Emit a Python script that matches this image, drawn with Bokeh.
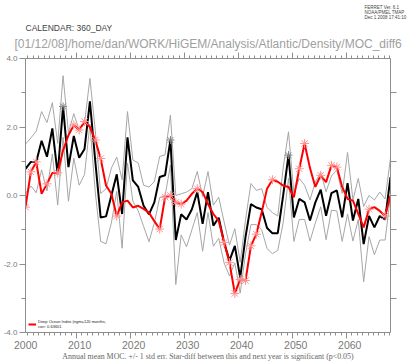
import numpy as np
from bokeh.plotting import figure
from bokeh.models import (LinearAxis, FixedTicker, Range1d, ColumnDataSource, Title,
                          CustomJSTickFormatter, PrintfTickFormatter, Legend, LegendItem)
from bokeh.embed import file_html
from bokeh.resources import INLINE

# ---------------- data ----------------
X0, X1 = 2000.56, 2068.15          # time axis extent (years)
N = 69
mean_moc = [0.78, 0.98, 0.98, 1.6, 1.13, 1.96, 0.62, 2.6, 0.83, 1.74, 1.1, 1.36, 2.75, 1.0,
            -0.64, -0.61, 0.0, 0.62, -0.54, 1.7, 0.44, 0.25, -0.3, -0.55, -0.2, 0.54, 0.59,
            1.62, -1.3, -0.55, -0.7, -0.4, 0.1, -0.83, 0.1, -0.88, -0.65, -1.37, -1.9, -1.47,
            -2.4, -1.2, -0.25, -0.35, -0.4, -0.95, -1.1, -1.1, 0.0, 1.18, -0.64, -0.1, -0.2,
            -0.73, -0.2, 0.17, -0.59, 0.07, 0.15, -0.64, 0.36, -0.73, -0.1, -1.42, -0.6, -0.93,
            -0.6, -0.7, 0.54]
std_err = [0.72, 0.7, 0.9, 0.85, 1.0, 0.75, 0.9, 0.9, 1.0, 0.65, 0.8, 0.75, 0.67, 0.9, 0.7,
           0.8, 0.8, 0.5, 1.0, 0.75, 0.6, 0.7, 0.6, 0.8, 0.6, 0.6, 0.6, 0.73, 1.3, 0.6, 0.8,
           0.6, 0.6, 0.8, 0.6, 0.6, 0.6, 0.6, 0.45, 0.5, 0.45, 0.5, 0.6, 0.5, 0.6, 0.6, 0.6,
           0.5, 0.8, 0.68, 0.7, 0.6, 0.5, 0.6, 0.6, 0.5, 0.7, 0.5, 0.6, 0.7, 0.9, 0.6, 0.6,
           1.1, 0.6, 0.8, 0.7, 0.6, 0.55]
deep_index = [-0.34, 0.69, 0.98, 0.05, 0.34, 0.66, 0.66, 1.32, 1.76, 2.06, 1.91, 2.16, 2.0,
              1.62, 1.08, 0.29, 0.05, -0.6, -0.2, -0.15, -0.35, -0.3, -0.39, -0.5, -0.75,
              -0.98, -0.05, 0.0, -0.2, -0.25, -0.15, 0.05, 0.2, 0.1, -0.25, -0.54, -0.74,
              -1.37, -1.96, -2.86, -2.45, -2.48, -1.47, -1.13, -0.49, 0.2, 0.46, 0.4, 0.29,
              0.25, -0.05, 0.78, 1.52, 0.8, 0.25, 0.59, 0.39, 0.88, 0.83, 0.25, -0.1, -0.15,
              -0.54, -0.93, -0.4, -0.34, -0.45, -0.6, 0.0]
red_star_idx = [0, 1, 2, 4, 6, 9, 10, 11, 13, 14, 17, 25, 26, 27, 28, 29, 32, 37, 38, 39, 40,
                41, 42, 43, 46, 51, 52, 55, 57, 58, 64, 67]
black_star_idx = [7, 27, 49]

y_ticks = [-4, -2, 0, 2, 4]
y_minor = [-3, -1, 1, 3]
right_ticks = [-3, -2, -1, 0, 1, 2, 3]
decade_ticks = [2010, 2020, 2030, 2040, 2050, 2060]
year_ticks = list(range(2001, 2069))
year_label_ticks = [2000.6, 2010.6, 2020.6, 2030.6, 2040.6, 2050.6, 2060.6]

legend_label = "Deep Ocean Index (ngm=120 months,\ncorr: 0.63651"
caption = "Annual mean MOC. +/- 1 std err. Star-diff between this and next year is significant (p<0.05)"
calendar_text = "CALENDAR: 360_DAY"
path_text = "[01/12/08]/home/dan/WORK/HiGEM/Analysis/Atlantic/Density/MOC_diff6"
ferret_text = "FERRET Ver. 6.1\nNOAA/PMEL TMAP\nDec  1 2008 17:41:10"

# --------------------------------------------------------------
years = np.linspace(X0, X1, N)
upper = [m + e for m, e in zip(mean_moc, std_err)]
lower = [m - e for m, e in zip(mean_moc, std_err)]

src = ColumnDataSource(dict(t=years, m=mean_moc, up=upper, lo=lower, d=deep_index))
rs = ColumnDataSource(dict(t=[years[i] for i in red_star_idx], d=[deep_index[i] for i in red_star_idx]))
bs = ColumnDataSource(dict(t=[years[i] for i in black_star_idx], m=[mean_moc[i] for i in black_star_idx]))

AX = "#8e8e8e"
LBL = "#7a7a7a"

p = figure(width=414, height=363, x_range=Range1d(X0, X1), y_range=Range1d(-4, 4),
           output_backend="svg", toolbar_location=None,
           x_axis_location=None, y_axis_location=None,
           min_border_left=25, min_border_right=24, min_border_top=58, min_border_bottom=31,
           outline_line_color=None, background_fill_color="white", border_fill_color="white")
p.grid.visible = False

empty = CustomJSTickFormatter(code="return ''")


def style_axis(ax, tick_out, minor_out, color=AX):
    ax.major_tick_out = tick_out
    ax.major_tick_in = 0
    ax.minor_tick_out = minor_out
    ax.minor_tick_in = 0
    ax.axis_line_color = color
    ax.major_tick_line_color = color
    ax.minor_tick_line_color = color


left = LinearAxis(ticker=FixedTicker(ticks=y_ticks, minor_ticks=y_minor),
                  formatter=PrintfTickFormatter(format="%.1f"))
style_axis(left, 6, 4)
left.major_label_standoff = 2
left.major_label_text_font = "Liberation Sans"
left.major_label_text_font_size = "8px"
left.major_label_text_color = LBL
p.add_layout(left, "left")

right = LinearAxis(ticker=FixedTicker(ticks=right_ticks, minor_ticks=[]), formatter=empty)
style_axis(right, 6, 0)
right.major_label_standoff = 0
right.major_label_text_font_size = "1px"
p.add_layout(right, "right")

top = LinearAxis(ticker=FixedTicker(ticks=decade_ticks, minor_ticks=year_ticks), formatter=empty)
style_axis(top, 6, 3)
top.major_label_standoff = 0
top.major_label_text_font_size = "1px"
p.add_layout(top, "above")

bot = LinearAxis(ticker=FixedTicker(ticks=decade_ticks, minor_ticks=year_ticks), formatter=empty)
style_axis(bot, 6, 3)
bot.major_label_standoff = 0
bot.major_label_text_font_size = "1px"
p.add_layout(bot, "below")

botlab = LinearAxis(ticker=FixedTicker(ticks=year_label_ticks, minor_ticks=[]),
                    formatter=CustomJSTickFormatter(code="return Math.floor(tick).toString()"))
style_axis(botlab, 0, 0, color=None)
botlab.major_label_standoff = 2
botlab.major_label_text_font = "Liberation Sans"
botlab.major_label_text_font_size = "10.5px"
botlab.major_label_text_color = LBL
botlab.axis_label = caption
botlab.axis_label_standoff = 0
botlab.axis_label_text_font = "Liberation Serif"
botlab.axis_label_text_font_size = "7.9px"
botlab.axis_label_text_font_style = "normal"
botlab.axis_label_text_color = "#666666"
p.add_layout(botlab, "below")

# titles stacked above the top axis (nearest first)
p.add_layout(Title(text=path_text, align="left", offset=-11, standoff=3,
                   text_font="Liberation Sans", text_font_size="12px",
                   text_font_style="normal", text_color="#a0a0a0"), "above")
p.add_layout(Title(text=calendar_text, align="left", offset=0, standoff=2,
                   text_font="Liberation Sans", text_font_size="8.5px",
                   text_font_style="normal", text_color="#444444"), "above")
p.add_layout(Title(text=ferret_text, align="right", offset=-17, standoff=0,
                   text_font="Liberation Sans", text_font_size="4.5px",
                   text_font_style="normal", text_color="#444444"), "above")

# series
p.line("t", "up", source=src, line_color="#a6a6a6", line_width=1)
p.line("t", "lo", source=src, line_color="#a6a6a6", line_width=1)
p.line("t", "m", source=src, line_color="black", line_width=2)
p.scatter("t", "m", source=bs, marker="asterisk", size=8, line_color="#808080", line_width=1)
red = p.line("t", "d", source=src, line_color="#ff0000", line_width=2)
p.scatter("t", "d", source=rs, marker="asterisk", size=9, line_color="#ff9090", line_width=1)

legend = Legend(items=[LegendItem(label=legend_label, renderers=[red])],
                location="bottom_left", label_text_font="Liberation Sans",
                label_text_font_size="4px", label_text_color="#222222",
                glyph_width=8, glyph_height=6, label_standoff=2, label_height=6,
                padding=0, margin=3, spacing=0,
                border_line_color=None, background_fill_alpha=0)
p.add_layout(legend)

open("out.html", "w").write(file_html(p, INLINE))
